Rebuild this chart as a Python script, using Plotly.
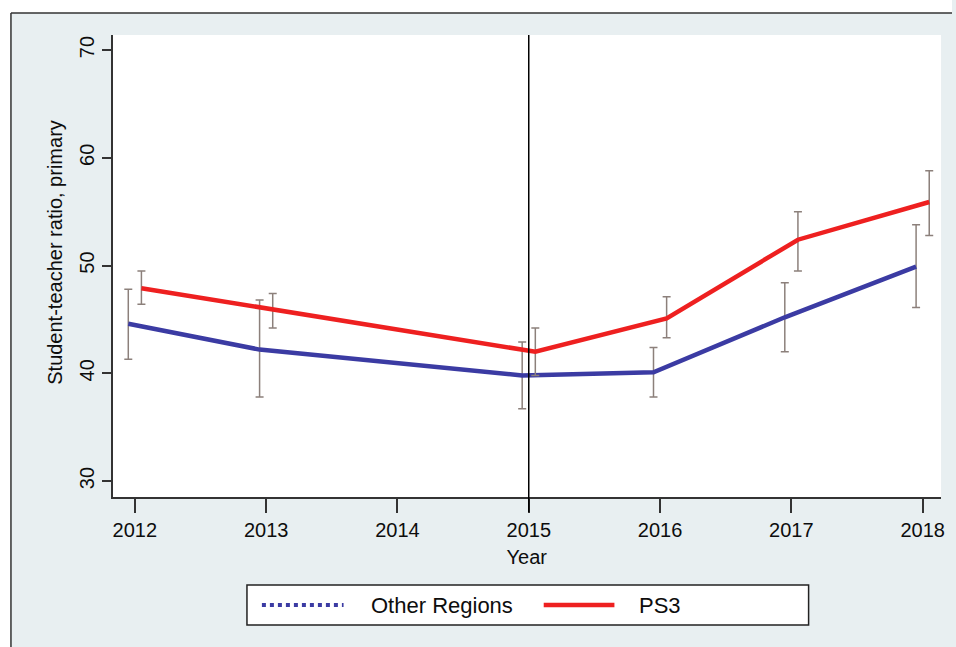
import plotly.graph_objects as go

# Student-teacher ratio (primary) by year, with confidence intervals
years = [2012, 2013, 2015, 2016, 2017, 2018]

other_mean = [44.6, 42.2, 39.8, 40.1, 45.2, 49.9]
other_low = [41.3, 37.8, 36.7, 37.8, 42.0, 46.1]
other_high = [47.8, 46.8, 42.9, 42.4, 48.4, 53.8]

ps3_mean = [47.9, 45.9, 42.0, 45.1, 52.4, 55.9]
ps3_low = [46.4, 44.2, 39.8, 43.3, 49.5, 52.8]
ps3_high = [49.5, 47.4, 44.2, 47.1, 55.0, 58.8]

x_ticks = [2012, 2013, 2014, 2015, 2016, 2017, 2018]
y_ticks = [30, 40, 50, 60, 70]
reform_year = 2015

W, H = 956, 647
FONT = "Liberation Sans, Arial, sans-serif"
BG = "#e8eff1"
BLUE = "#3b3ba3"
RED = "#ee2020"
CI = "#8c807b"
TXT = "#0d0d0d"
SHIFT = 0.05  # horizontal dodge so the two series' bars don't overlap


def px(x):
    return x / W


def py(y):
    return (H - y) / H


fig = go.Figure()

fig.add_trace(go.Scatter(
    x=[v - SHIFT for v in years], y=other_mean, mode="lines",
    name="Other Regions", line=dict(color=BLUE, width=4.5),
    error_y=dict(type="data", symmetric=False,
                 array=[h - m for h, m in zip(other_high, other_mean)],
                 arrayminus=[m - l for m, l in zip(other_mean, other_low)],
                 color=CI, thickness=1.5, width=4),
    showlegend=False,
))
fig.add_trace(go.Scatter(
    x=[v + SHIFT for v in years], y=ps3_mean, mode="lines",
    name="PS3", line=dict(color=RED, width=4.5),
    error_y=dict(type="data", symmetric=False,
                 array=[h - m for h, m in zip(ps3_high, ps3_mean)],
                 arrayminus=[m - l for m, l in zip(ps3_mean, ps3_low)],
                 color=CI, thickness=1.5, width=4),
    showlegend=False,
))

shapes = [
    # white margin outside the frame
    dict(type="rect", xref="paper", yref="paper", x0=0, x1=px(11), y0=0, y1=1,
         fillcolor="white", line=dict(width=0), layer="below"),
    dict(type="rect", xref="paper", yref="paper", x0=0, x1=1, y0=py(13), y1=1,
         fillcolor="white", line=dict(width=0), layer="below"),
    dict(type="line", xref="paper", yref="paper", x0=px(11), x1=px(11), y0=0, y1=py(13),
         line=dict(color="#333333", width=1.5)),
    dict(type="line", xref="paper", yref="paper", x0=px(11), x1=1, y0=py(13), y1=py(13),
         line=dict(color="#333333", width=1.5)),
    # reform year marker
    dict(type="line", xref="x", yref="paper", x0=reform_year, x1=reform_year,
         y0=py(512), y1=py(35), line=dict(color="black", width=1.5)),
    # legend box
    dict(type="rect", xref="paper", yref="paper", x0=px(248), x1=px(812),
         y0=py(625), y1=py(585), fillcolor="white", line=dict(color="#222222", width=1.5)),
    dict(type="line", xref="paper", yref="paper", x0=px(263), x1=px(345),
         y0=py(605), y1=py(605), line=dict(color=BLUE, width=4, dash="4px,4px")),
    dict(type="line", xref="paper", yref="paper", x0=px(546), x1=px(617),
         y0=py(605), y1=py(605), line=dict(color=RED, width=4.5)),
]

annotations = [
    dict(text="Other Regions", xref="paper", yref="paper", x=px(371), y=py(605),
         xanchor="left", yanchor="middle", showarrow=False,
         font=dict(family=FONT, size=22, color=TXT)),
    dict(text="PS3", xref="paper", yref="paper", x=px(640), y=py(605),
         xanchor="left", yanchor="middle", showarrow=False,
         font=dict(family=FONT, size=22, color=TXT)),
    dict(text="Student-teacher ratio, primary", xref="paper", yref="paper",
         x=px(55), y=py(252), textangle=-90, xanchor="center", yanchor="middle",
         showarrow=False, font=dict(family=FONT, size=20, color=TXT)),
]

fig.update_layout(
    width=W, height=H,
    margin=dict(l=0, r=0, t=0, b=0),
    paper_bgcolor=BG, plot_bgcolor="white",
    font=dict(family=FONT, size=20, color=TXT),
    shapes=shapes, annotations=annotations,
    xaxis=dict(
        domain=[px(113), px(945)], range=[2011.83, 2018.14],
        tickvals=x_ticks, ticktext=[str(v) for v in x_ticks],
        showline=True, linecolor="#333333", linewidth=1.5,
        ticks="outside", ticklen=14, tickwidth=1.5, tickcolor="#333333",
        showgrid=False, zeroline=False,
        title=dict(text="Year", standoff=10, font=dict(size=20)),
        tickfont=dict(size=20),
    ),
    yaxis=dict(
        domain=[py(497), py(35)], range=[28.52, 71.4],
        tickvals=y_ticks, tickangle=-90,
        showline=True, linecolor="#333333", linewidth=1.5,
        ticks="outside", ticklen=9, tickwidth=1.5, tickcolor="#333333",
        showgrid=False, zeroline=False,
        tickfont=dict(size=20),
    ),
)

fig.write_html("out.html")
